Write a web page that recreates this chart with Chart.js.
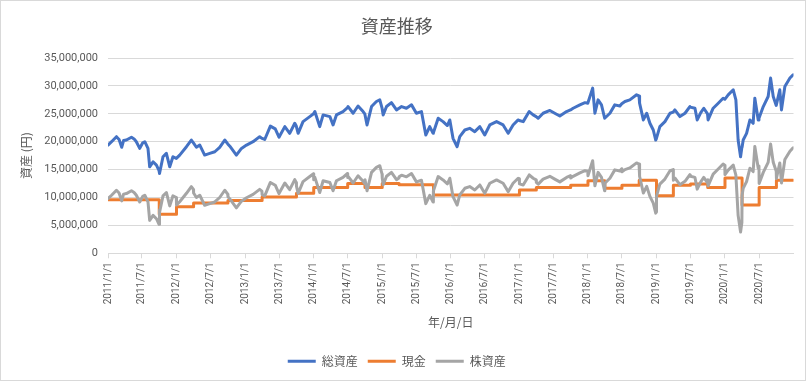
<!DOCTYPE html>
<html><head><meta charset="utf-8">
<script src="https://cdn.jsdelivr.net/npm/chart.js@4.4.1/dist/chart.umd.min.js"></script>
<style>html,body{margin:0;padding:0;background:#fff}#wrap{position:relative;width:808px;height:381px}</style>
</head><body><div id="wrap"><canvas id="c" width="808" height="381"></canvas></div>
<script>
const chartTitle = '資産推移';
const yAxisTitle = '資産 (円)';
const xAxisTitle = '年/月/日';
const seriesNames = ['総資産', '現金', '株資産'];
const xTickLabels = ['2011/1/1','2011/7/1','2012/1/1','2012/7/1','2013/1/1','2013/7/1','2014/1/1','2014/7/1','2015/1/1','2015/7/1','2016/1/1','2016/7/1','2017/1/1','2017/7/1','2018/1/1','2018/7/1','2019/1/1','2019/7/1','2020/1/1','2020/7/1'];
const yTickValues = [0, 5000000, 10000000, 15000000, 20000000, 25000000, 30000000, 35000000];
const xStart = '2011-01-01';
const xEnd = '2020-12-31';

const dates = ['2011-01-01','2011-01-20','2011-02-15','2011-03-01','2011-03-15','2011-03-25','2011-04-09','2011-05-06','2011-05-20','2011-06-01','2011-06-19','2011-07-05','2011-07-16','2011-08-02','2011-08-11','2011-08-29','2011-09-16','2011-09-30','2011-10-01','2011-10-04','2011-10-21','2011-11-08','2011-11-26','2011-12-13','2011-12-31','2012-01-01','2012-01-18','2012-02-23','2012-03-20','2012-03-31','2012-04-01','2012-04-16','2012-05-04','2012-05-30','2012-06-26','2012-07-23','2012-08-18','2012-09-14','2012-09-30','2012-10-01','2012-10-11','2012-11-15','2012-12-12','2013-01-08','2013-02-12','2013-03-19','2013-03-31','2013-04-01','2013-04-15','2013-05-15','2013-06-10','2013-06-30','2013-07-31','2013-08-26','2013-09-22','2013-09-30','2013-10-01','2013-10-10','2013-11-05','2013-12-11','2013-12-31','2014-01-01','2014-01-07','2014-02-02','2014-02-20','2014-03-28','2014-04-14','2014-05-02','2014-06-06','2014-06-30','2014-07-01','2014-07-03','2014-07-30','2014-08-25','2014-09-21','2014-09-30','2014-10-01','2014-10-12','2014-11-05','2014-12-01','2014-12-19','2014-12-31','2015-01-01','2015-01-06','2015-01-24','2015-02-19','2015-03-18','2015-03-31','2015-04-01','2015-04-14','2015-05-10','2015-06-06','2015-07-02','2015-07-29','2015-08-21','2015-09-11','2015-09-29','2015-09-30','2015-10-01','2015-10-26','2015-11-21','2015-12-14','2015-12-27','2016-01-13','2016-02-04','2016-02-18','2016-03-16','2016-04-11','2016-05-08','2016-06-04','2016-06-30','2016-07-27','2016-09-01','2016-10-06','2016-11-02','2016-11-28','2016-12-25','2016-12-31','2017-01-01','2017-01-21','2017-02-22','2017-03-15','2017-03-31','2017-04-01','2017-04-11','2017-05-07','2017-06-12','2017-07-08','2017-08-04','2017-09-09','2017-09-30','2017-10-01','2017-10-14','2017-11-19','2017-12-16','2017-12-31','2018-01-01','2018-01-26','2018-02-07','2018-02-24','2018-03-14','2018-03-31','2018-04-01','2018-04-28','2018-05-24','2018-06-20','2018-06-30','2018-07-01','2018-07-17','2018-08-12','2018-09-17','2018-09-30','2018-10-01','2018-10-05','2018-10-23','2018-11-10','2018-11-27','2018-12-15','2018-12-28','2018-12-31','2019-01-01','2019-01-19','2019-02-15','2019-03-14','2019-03-31','2019-04-01','2019-04-09','2019-05-06','2019-06-02','2019-06-28','2019-06-30','2019-07-01','2019-07-25','2019-08-06','2019-08-25','2019-09-10','2019-09-30','2019-10-01','2019-10-03','2019-10-30','2019-11-26','2019-12-22','2019-12-31','2020-01-01','2020-01-18','2020-02-14','2020-02-28','2020-03-11','2020-03-24','2020-03-31','2020-04-01','2020-04-07','2020-04-25','2020-05-13','2020-05-30','2020-06-08','2020-06-26','2020-06-30','2020-07-01','2020-07-23','2020-08-18','2020-08-31','2020-09-14','2020-09-30','2020-10-01','2020-10-19','2020-10-28','2020-11-15','2020-12-12','2020-12-29'];

const totalValues = [19400000,20000000,20900000,20400000,19000000,20200000,20300000,20800000,20500000,20000000,18800000,19800000,20000000,18800000,15500000,16400000,15800000,14800000,14800000,14300000,17300000,17900000,15500000,17300000,17000000,17000000,17600000,19100000,20300000,19800000,19800000,19000000,19400000,17600000,17900000,18200000,19000000,20300000,19600000,19600000,19200000,17600000,18800000,19400000,20000000,20900000,20600000,20600000,20400000,22800000,22300000,20800000,22700000,21500000,23300000,22800000,22800000,21500000,23600000,24500000,25000000,25000000,25400000,22700000,24800000,24500000,23000000,24800000,25400000,26100000,26100000,26300000,25100000,26400000,25400000,25000000,25000000,23000000,26300000,27200000,27500000,26000000,26000000,24800000,26300000,27000000,25700000,26000000,26000000,26300000,26000000,26600000,25100000,25400000,21200000,22700000,21500000,21600000,21600000,24200000,23600000,22900000,23900000,20600000,19100000,20900000,22100000,22400000,21800000,22700000,21200000,23000000,23600000,23000000,21500000,23000000,23900000,23800000,23800000,23600000,25400000,24800000,24500000,24500000,24200000,25100000,25600000,25100000,24600000,25400000,25700000,25700000,26000000,26600000,27000000,26900000,26900000,29600000,25100000,27500000,26600000,24200000,24200000,25100000,26600000,26400000,26800000,26800000,27200000,27500000,28400000,28200000,28200000,26900000,23900000,25100000,23300000,22100000,20300000,20500000,20500000,22700000,23600000,25100000,25300000,25300000,25700000,24500000,25100000,26300000,26200000,26200000,26000000,23900000,25200000,26000000,25000000,25000000,23900000,26000000,26900000,27800000,27600000,27600000,28400000,29300000,27500000,20300000,17300000,19000000,19000000,20300000,21500000,23900000,23300000,27800000,23900000,24300000,24300000,26300000,28100000,31400000,28100000,26500000,26500000,29300000,25700000,29900000,31400000,32000000];

const stockValues = [9800000,10400000,11300000,10800000,9400000,10600000,10700000,11200000,10900000,10400000,9200000,10200000,10400000,9200000,5900000,6800000,6200000,5200000,7800000,7300000,10300000,10900000,8500000,10300000,10000000,8650000,9250000,10750000,11950000,11450000,10800000,10000000,10400000,8600000,8900000,9200000,10000000,11300000,10600000,10150000,9750000,8150000,9350000,9950000,10550000,11450000,11150000,10500000,10300000,12700000,12200000,10700000,12600000,11400000,13200000,12700000,12050000,10750000,12850000,13750000,14250000,13200000,13600000,10900000,13000000,12700000,11200000,13000000,13600000,14300000,13600000,13800000,12600000,13900000,12900000,12500000,13200000,11200000,14500000,15400000,15700000,14200000,13500000,12300000,13800000,14500000,13200000,13500000,13700000,14000000,13700000,14300000,12800000,13100000,8900000,10400000,9200000,9300000,11150000,13750000,13150000,12450000,13450000,10150000,8650000,10450000,11650000,11950000,11350000,12250000,10750000,12550000,13150000,12550000,11050000,12550000,13450000,13350000,12450000,12250000,14050000,13450000,13150000,12700000,12400000,13300000,13800000,13300000,12800000,13600000,13900000,13500000,13800000,14400000,14800000,14700000,13900000,16600000,12100000,14500000,13600000,11200000,12550000,13450000,14950000,14750000,15150000,14600000,15000000,15300000,16200000,16000000,15100000,13800000,10800000,12000000,10200000,9000000,7200000,7400000,10200000,12400000,13300000,14800000,15000000,13100000,13500000,12300000,12900000,14100000,14000000,13800000,13600000,11500000,12800000,13600000,12600000,13200000,12100000,14200000,15100000,16000000,15800000,14100000,14900000,15800000,14000000,6800000,3800000,5500000,10350000,11650000,12850000,15250000,14650000,19150000,15250000,15650000,12500000,14500000,16300000,19600000,16300000,14700000,13400000,16200000,12600000,16800000,18300000,18900000];

const cashDates = ['2011-01-01','2011-10-01','2012-01-01','2012-04-01','2012-10-01','2013-04-01','2013-10-01','2014-01-01','2014-07-01','2014-10-01','2015-01-01','2015-04-01','2015-10-01','2017-01-01','2017-04-01','2017-10-01','2018-01-01','2018-04-01','2018-07-01','2018-10-01','2019-01-01','2019-04-01','2019-07-01','2019-10-01','2020-01-01','2020-04-01','2020-07-01','2020-10-01','2020-12-29'];
const cashValues = [9600000,7000000,8350000,9000000,9450000,10100000,10750000,11800000,12500000,11800000,12500000,12300000,10450000,11350000,11800000,12200000,13000000,11650000,12200000,13100000,10300000,12200000,12400000,11800000,13500000,8650000,11800000,13100000,13100000];

const seriesColors = ['#4472C4', '#ED7D31', '#A5A5A5'];

function dayNum(s) {
  const p = s.split(/[-\/]/).map(Number);
  return (Date.UTC(p[0], p[1] - 1, p[2]) - Date.UTC(2011, 0, 1)) / 86400000;
}
const toPts = (ds, vs) => ds.map((d, i) => ({x: dayNum(d), y: vs[i]}));

const textColor = '#595959';
const numFont = "Roboto, 'Noto Sans CJK JP', sans-serif";
const cjkFont = "'Noto Sans CJK JP', sans-serif";

const bgBorder = {
  id: 'bgBorder',
  beforeDraw(chart) {
    const ctx = chart.ctx;
    ctx.save(); ctx.fillStyle = '#fff'; ctx.fillRect(0, 0, chart.width, chart.height); ctx.restore();
  },
  afterDraw(chart) {
    const ctx = chart.ctx;
    ctx.save(); ctx.strokeStyle = '#d9d9d9'; ctx.lineWidth = 1;
    ctx.strokeRect(0.5, 0.5, 805, 380); ctx.restore();
  }
};

const common = {pointRadius: 0, pointHoverRadius: 0, borderWidth: 3, tension: 0, fill: false, borderJoinStyle: 'round', borderCapStyle: 'round'};

new Chart(document.getElementById('c'), {
  type: 'line',
  data: {
    datasets: [
      Object.assign({label: seriesNames[0], data: toPts(dates, totalValues), borderColor: seriesColors[0], backgroundColor: seriesColors[0], order: 2}, common),
      Object.assign({label: seriesNames[1], data: toPts(cashDates, cashValues), borderColor: seriesColors[1], backgroundColor: seriesColors[1], order: 1, stepped: 'before'}, common),
      Object.assign({label: seriesNames[2], data: toPts(dates, stockValues), borderColor: seriesColors[2], backgroundColor: seriesColors[2], order: 0}, common)
    ]
  },
  options: {
    responsive: false,
    animation: false,
    events: [],
    layout: {padding: {left: 0, right: 14.5, top: 0, bottom: 3.7}},
    plugins: {
      title: {display: true, text: chartTitle, color: textColor, font: {family: cjkFont, size: 18, weight: 'normal'}, padding: {top: 15, bottom: 21.4}},
      legend: {
        position: 'bottom',
        labels: {
          usePointStyle: true, pointStyle: 'line', pointStyleWidth: 28,
          color: textColor, font: {family: cjkFont, size: 12}, padding: 10,
          sort: (a, b) => a.datasetIndex - b.datasetIndex
        }
      },
      tooltip: {enabled: false}
    },
    scales: {
      x: {
        type: 'linear',
        min: dayNum(xStart),
        max: dayNum(xEnd),
        afterBuildTicks: s => { s.ticks = xTickLabels.map(l => ({value: dayNum(l)})); },
        afterFit: s => { s.height = 92; },
        ticks: {
          autoSkip: false, maxRotation: 90, minRotation: 90,
          callback: (v, i) => xTickLabels[i],
          color: textColor, font: {family: numFont, size: 10}, padding: 4
        },
        grid: {drawOnChartArea: false, drawTicks: true, tickLength: 5, color: '#d9d9d9'},
        border: {display: true, color: '#d9d9d9'},
        title: {display: true, text: xAxisTitle, color: textColor, font: {family: cjkFont, size: 12}, padding: {top: 4, bottom: 16}}
      },
      y: {
        min: yTickValues[0],
        max: yTickValues[yTickValues.length - 1],
        afterBuildTicks: s => { s.ticks = yTickValues.map(v => ({value: v})); },
        afterFit: s => { s.width = 108; },
        ticks: {
          callback: v => v.toLocaleString('en-US'),
          color: textColor, font: {family: numFont, size: 11}, padding: 10
        },
        grid: {color: '#d9d9d9', drawTicks: false},
        border: {display: false},
        title: {display: true, text: yAxisTitle, color: textColor, font: {family: cjkFont, size: 12}, padding: {top: 19.5, bottom: 0}}
      }
    }
  },
  plugins: [bgBorder]
});
</script>
</body></html>
